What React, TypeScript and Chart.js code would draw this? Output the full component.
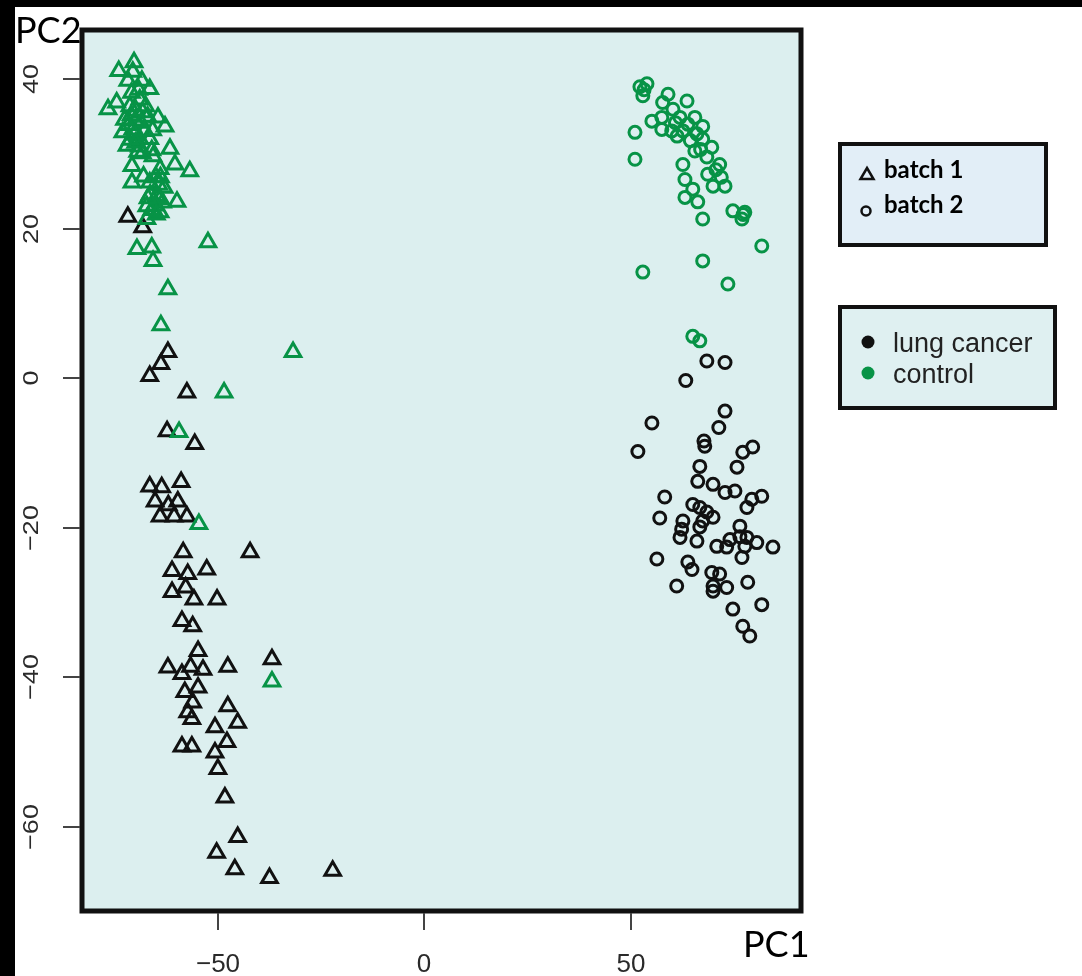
import React, { useEffect, useRef } from "react";
import { Chart, registerables } from "chart.js";

Chart.register(...registerables);

// ---- data ----
const xTicks = [-50, 0, 50];
const yTicks = [-60, -40, -20, 0, 20, 40];
const xMin = -82.9;
const xMax = 91.2;
const yMin = -71.3;
const yMax = 46.6;

const xTitle = "PC1";
const yTitle = "PC2";
const batchLabels = ["batch 1", "batch 2"];
const groupLabels = ["lung cancer", "control"];

// batch 1 (triangles), lung cancer (black)
const batch1Cancer: number[][] = [
  [-71.8, 21.6], [-68.2, 20.2],
  [-62.1, 3.5], [-63.8, 1.9], [-66.5, 0.3], [-57.5, -1.9], [-62.3, -7.1], [-55.6, -8.8],
  [-66.5, -14.5], [-63.6, -14.6], [-58.9, -13.9], [-65.2, -16.5], [-59.7, -16.5], [-64.0, -18.5],
  [-60.6, -18.5], [-57.5, -18.5], [-62.0, -17.0],
  [-58.4, -23.3], [-42.2, -23.3], [-61.1, -25.8], [-57.3, -26.2], [-52.7, -25.6], [-61.1, -28.6],
  [-57.8, -28.0], [-55.8, -29.6], [-50.2, -29.6],
  [-58.7, -32.5], [-56.1, -33.2], [-54.8, -36.5], [-62.1, -38.7], [-58.7, -39.6], [-56.6, -38.6],
  [-53.6, -39.0], [-47.6, -38.6], [-36.9, -37.6],
  [-54.8, -41.4], [-58.0, -42.0], [-56.1, -43.4], [-57.3, -44.7], [-47.6, -43.9], [-56.3, -45.6],
  [-50.7, -46.7], [-45.2, -46.1],
  [-47.8, -48.7], [-58.7, -49.3], [-56.3, -49.3], [-50.7, -50.1], [-50.0, -52.3], [-48.3, -56.1],
  [-45.2, -61.4], [-50.3, -63.5], [-45.9, -65.7], [-37.5, -66.9], [-22.2, -65.9],
];

// batch 1 (triangles), control (green)
const batch1Control: number[][] = [
  [-70.3, 42.3], [-74.0, 41.1], [-70.6, 41.0], [-71.8, 39.8], [-68.4, 39.8], [-66.5, 38.7],
  [-74.5, 36.9], [-76.6, 36.0], [-71.3, 36.4], [-68.9, 37.3], [-68.2, 35.6], [-64.5, 34.9],
  [-62.8, 33.7], [-73.0, 32.9], [-70.6, 33.3], [-68.9, 32.0], [-66.5, 32.0], [-72.0, 31.1],
  [-69.4, 30.3], [-61.6, 30.7], [-65.7, 29.7], [-60.4, 28.6], [-56.8, 27.7], [-70.8, 28.4],
  [-64.0, 28.0], [-70.8, 26.2], [-66.5, 26.2], [-64.8, 24.4], [-59.9, 23.6], [-67.2, 23.0],
  [-64.0, 22.2], [-67.2, 21.3], [-69.6, 17.3], [-66.0, 17.5], [-65.7, 15.7], [-52.4, 18.2],
  [-70.0, 34.5], [-67.0, 35.0], [-69.0, 31.0], [-66.0, 30.5], [-63.0, 25.5], [-66.0, 22.5],
  [-64.0, 24.0], [-68.0, 27.0],
  [-71.0, 35.2], [-69.8, 35.8], [-68.6, 34.2], [-71.6, 33.9], [-70.2, 32.6], [-67.8, 33.1],
  [-71.2, 31.9], [-69.9, 31.5], [-72.6, 34.6], [-67.5, 36.4], [-65.8, 33.2], [-68.3, 30.1],
  [-65.0, 26.9], [-64.3, 25.9], [-66.4, 24.6], [-63.4, 23.5], [-65.2, 23.1], [-66.9, 24.1],
  [-64.9, 21.9], [-63.9, 26.9], [-69.2, 38.6], [-70.9, 38.2],
  [-62.1, 11.9], [-63.8, 7.1], [-31.8, 3.5], [-48.5, -1.9], [-59.4, -7.2], [-54.6, -19.5],
  [-36.9, -40.6],
];

// batch 2 (circles), control (green)
const batch2Control: number[][] = [
  [52.2, 39.0], [53.9, 39.4], [52.9, 37.8], [59.0, 38.0], [57.7, 36.9], [63.6, 37.1],
  [60.2, 36.0], [55.1, 34.4], [57.5, 34.9], [61.9, 34.9], [65.5, 34.9], [57.5, 33.3],
  [59.9, 33.1], [62.6, 33.1], [67.4, 33.7], [51.0, 32.9], [66.0, 32.7], [67.4, 32.0],
  [69.6, 30.9], [65.5, 30.4], [51.0, 29.3], [62.6, 28.6], [68.4, 29.6], [71.5, 28.6],
  [68.6, 27.3], [63.1, 26.6], [72.8, 25.7], [69.9, 25.7], [65.0, 25.3], [63.1, 24.2],
  [66.2, 23.6], [67.4, 21.3], [74.7, 22.4], [77.6, 22.2], [76.9, 21.3], [81.7, 17.7],
  [67.4, 15.7], [52.9, 14.2], [73.5, 12.6], [65.0, 5.6], [66.7, 5.0],
  [53.2, 38.6], [60.8, 34.2], [63.8, 34.0], [61.2, 32.4], [64.4, 31.8], [66.9, 30.6],
  [70.6, 27.9], [71.9, 26.9], [77.2, 21.9],
];

// batch 2 (circles), lung cancer (black)
const batch2Cancer: number[][] = [
  [68.4, 2.3], [72.8, 2.1], [63.3, -0.3], [72.8, -4.4], [71.3, -6.6], [55.1, -6.0],
  [67.7, -8.4], [67.9, -9.1], [51.7, -9.8], [79.5, -9.2], [77.1, -9.9], [75.7, -11.9],
  [66.7, -11.8], [66.2, -13.8], [69.9, -14.2], [72.8, -15.3], [75.2, -15.1], [81.7, -15.8],
  [79.3, -16.2], [78.1, -17.3], [58.2, -15.9], [57.0, -18.7], [65.0, -16.9], [66.7, -17.3],
  [68.4, -17.9], [69.9, -18.6], [67.4, -19.1], [62.6, -19.1], [62.3, -20.2], [61.9, -21.3],
  [66.7, -19.9], [66.0, -21.8], [76.4, -19.8], [76.4, -21.2], [78.1, -21.3], [80.5, -22.0],
  [84.4, -22.6], [70.8, -22.5], [73.2, -22.6], [74.0, -21.6], [77.6, -22.5], [76.9, -24.0],
  [56.3, -24.2], [63.8, -24.6], [64.8, -25.6], [69.6, -26.0], [71.5, -26.2], [69.9, -27.8],
  [73.2, -28.0], [69.9, -28.5], [61.1, -27.8], [78.3, -27.3], [81.7, -30.3], [74.7, -30.9],
  [77.1, -33.2], [78.8, -34.5],
];

// ---- styles ----
const GREEN = "#079346";
const BLACK = "#111111";
const PLOT_BG = "#dcefef";
const TICK_FONT = "'Liberation Sans', Arial, sans-serif";
const TITLE_FONT = "Lato, 'Open Sans', sans-serif";

const toPts = (arr: number[][]) => arr.map(([x, y]) => ({ x, y }));

const decorPlugin = {
  id: "decor",
  beforeDraw(chart: any) {
    const { ctx, width, height, chartArea: a } = chart;
    ctx.save();
    ctx.fillStyle = "#ffffff";
    ctx.fillRect(0, 0, width, height);
    ctx.fillStyle = "#000000";
    ctx.fillRect(0, 0, width, 7);
    ctx.fillRect(0, 0, 15, height);
    ctx.fillStyle = PLOT_BG;
    ctx.fillRect(a.left, a.top, a.right - a.left, a.bottom - a.top);
    ctx.restore();
  },
  afterDraw(chart: any) {
    const { ctx, chartArea: a } = chart;
    const xs = chart.scales.x;
    const ys = chart.scales.y;
    ctx.save();
    // plot frame
    ctx.strokeStyle = "#111";
    ctx.lineWidth = 5;
    ctx.strokeRect(a.left, a.top, a.right - a.left, a.bottom - a.top);

    // ticks
    ctx.strokeStyle = "#444";
    ctx.lineWidth = 2;
    ctx.fillStyle = "#2a2a2a";
    for (const v of yTicks) {
      const py = Math.round(ys.getPixelForValue(v));
      ctx.beginPath();
      ctx.moveTo(a.left - 19, py);
      ctx.lineTo(a.left - 2, py);
      ctx.stroke();
      const size = 27;
      ctx.save();
      ctx.translate(30, py);
      ctx.rotate(-Math.PI / 2);
      ctx.scale(1, 0.85);
      ctx.font = `${size}px ${TICK_FONT}`;
      ctx.textAlign = "center";
      ctx.textBaseline = "alphabetic";
      ctx.fillText(v < 0 ? "\u2212" + Math.abs(v) : String(v), 0, (0.716 * size) / 2);
      ctx.restore();
    }
    for (const v of xTicks) {
      const px = Math.round(xs.getPixelForValue(v));
      ctx.beginPath();
      ctx.moveTo(px, a.bottom + 2);
      ctx.lineTo(px, a.bottom + 19);
      ctx.stroke();
      ctx.font = `26px ${TICK_FONT}`;
      ctx.textAlign = "center";
      ctx.textBaseline = "alphabetic";
      ctx.fillText(v < 0 ? "\u2212" + Math.abs(v) : String(v), px, 972);
    }

    // axis titles
    ctx.fillStyle = "#000";
    ctx.font = `36px ${TITLE_FONT}`;
    ctx.textAlign = "left";
    ctx.textBaseline = "alphabetic";
    ctx.fillText(yTitle, 15, 43);
    ctx.fillText(xTitle, 743, 957);

    // legend 1: batches (shapes)
    ctx.fillStyle = "#e2eef7";
    ctx.fillRect(840, 144, 206, 101);
    ctx.strokeStyle = "#111";
    ctx.lineWidth = 4;
    ctx.strokeRect(840, 144, 206, 101);
    ctx.lineWidth = 2.5;
    ctx.strokeStyle = "#111";
    ctx.beginPath();
    ctx.moveTo(867, 168);
    ctx.lineTo(873.5, 179);
    ctx.lineTo(860.5, 179);
    ctx.closePath();
    ctx.stroke();
    ctx.beginPath();
    ctx.arc(866, 211, 4.5, 0, Math.PI * 2);
    ctx.stroke();
    ctx.fillStyle = "#000";
    ctx.font = `bold 24px ${TITLE_FONT}`;
    ctx.fillText(batchLabels[0], 884, 178);
    ctx.fillText(batchLabels[1], 884, 213);

    // legend 2: groups (colours)
    ctx.fillStyle = "#dff0f1";
    ctx.fillRect(840, 307, 215, 101);
    ctx.strokeStyle = "#111";
    ctx.lineWidth = 4;
    ctx.strokeRect(840, 307, 215, 101);
    ctx.fillStyle = BLACK;
    ctx.beginPath();
    ctx.arc(868, 342, 6.5, 0, Math.PI * 2);
    ctx.fill();
    ctx.fillStyle = GREEN;
    ctx.beginPath();
    ctx.arc(868, 373, 6.5, 0, Math.PI * 2);
    ctx.fill();
    ctx.fillStyle = "#222";
    ctx.font = `27px ${TICK_FONT}`;
    ctx.fillText(groupLabels[0], 893, 352);
    ctx.fillText(groupLabels[1], 893, 383);
    ctx.restore();
  },
};

export default function App() {
  const ref = useRef<HTMLCanvasElement | null>(null);
  useEffect(() => {
    if (!ref.current) return;
    const tri = { pointStyle: "triangle", pointRadius: 9, pointBorderWidth: 3, backgroundColor: "rgba(0,0,0,0)" };
    const cir = { pointStyle: "circle", pointRadius: 6, pointBorderWidth: 3, backgroundColor: "rgba(0,0,0,0)" };
    const chart = new Chart(ref.current, {
      type: "scatter",
      data: {
        datasets: [
          { label: "batch 1 control", data: toPts(batch1Control), borderColor: GREEN, order: 1, ...tri },
          { label: "batch 2 control", data: toPts(batch2Control), borderColor: GREEN, order: 2, ...cir },
          { label: "batch 1 lung cancer", data: toPts(batch1Cancer), borderColor: BLACK, order: 3, ...tri },
          { label: "batch 2 lung cancer", data: toPts(batch2Cancer), borderColor: BLACK, order: 4, ...cir },
        ] as any,
      },
      options: {
        responsive: false,
        maintainAspectRatio: false,
        animation: false,
        devicePixelRatio: 1,
        layout: { padding: { left: 0, top: 30, right: 281, bottom: 0 }, autoPadding: false } as any,
        plugins: { legend: { display: false }, tooltip: { enabled: false } },
        elements: { point: { hoverRadius: 9 } },
        scales: {
          x: {
            type: "linear",
            min: xMin,
            max: xMax,
            grid: { display: false },
            border: { display: false },
            ticks: { display: false },
            afterFit: (s: any) => { s.height = 65; },
          },
          y: {
            type: "linear",
            min: yMin,
            max: yMax,
            grid: { display: false },
            border: { display: false },
            ticks: { display: false },
            afterFit: (s: any) => { s.width = 82; },
          },
        },
      } as any,
      plugins: [decorPlugin],
    });
    return () => chart.destroy();
  }, []);
  return (
    <div style={{ position: "absolute", left: 0, top: 0, width: 1082, height: 976, background: "#fff" }}>
      <canvas ref={ref} width={1082} height={976} style={{ display: "block" }} />
    </div>
  );
}
